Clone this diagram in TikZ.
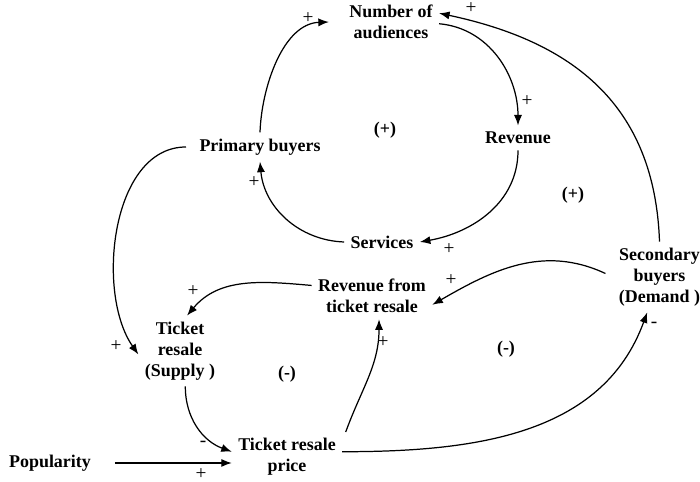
\documentclass[tikz,border=0pt]{standalone}
\usepackage{fontspec}
\setmainfont{Liberation Serif}
\usetikzlibrary{arrows.meta}

\tikzset{
  var/.style={font=\fontsize{10.2}{11.8}\selectfont\bfseries, align=center, inner sep=3.5pt},
  loop/.style={font=\fontsize{10.2}{12}\selectfont\bfseries, inner sep=0pt},
  sign/.style={font=\fontsize{11}{12}\selectfont, inner sep=0pt},
  link/.style={line width=0.7pt, -{Latex[length=6pt,width=4.6pt]}},
}

\begin{document}
\begin{tikzpicture}[x=0.02cm,y=0.02cm]
  \useasboundingbox (0,0) rectangle (700,482);

  % variables
  \node[var] (aud) at (391,460) {Number of\\audiences};
  \node[var] (rev) at (518,344) {Revenue};
  \node[var] (pri) at (260,335) {Primary buyers};
  \node[var] (ser) at (382,240) {Services};
  \node[var] (sec) at (659.5,205) {Secondary\\buyers\\(Demand )};
  \node[var] (rtr) at (372,186) {Revenue from\\ticket resale};
  \node[var] (sup) at (180,131) {Ticket\\resale\\(Supply )};
  \node[var] (trp) at (287,25) {Ticket resale\\price};
  \node[var] (pop) at (50,19) {Popularity};

  % loop polarities
  \node[loop] (l1) at (385,352) {(+)};
  \node[loop] (l2) at (573,287) {(+)};
  \node[loop] (l3) at (287,108) {(-)};
  \node[loop] (l4) at (506,133) {(-)};

  % audience loop
  \draw[link] (pri.north) to[out=88,in=182,looseness=0.9] ([xshift=-8pt]aud.west);
  \draw[link] ([yshift=-1pt]aud.east) to[out=-5,in=90] (rev.north);
  \draw[link] (rev.south) to[out=-90,in=10] (ser.east);
  \draw[link] (ser.west) to[out=178,in=-85] (pri.south);
  \draw[link] (sec.north) to[out=92,in=-12,looseness=1.1] ([yshift=5pt]aud.east);

  % ticket resale loops
  \draw[link] ([xshift=-4pt]pri.west) to[out=180,in=125,looseness=0.9] ([yshift=-2pt]sup.west);
  \draw[link] ([yshift=6pt]rtr.west) to[out=175,in=50] ([xshift=4pt]sup.north);
  \draw[link] ([xshift=-4pt,yshift=2pt]sec.west) to[out=155,in=30] ([yshift=-5pt]rtr.east);
  \draw[link] ([xshift=3pt]sup.south) to[out=-90,in=160] ([yshift=3pt]trp.west);
  \draw[link,shorten <=10pt] (pop.east) -- (pop.east -| trp.west);
  \draw[link] ([xshift=2pt]trp.north east) to[out=70,in=-90] ([xshift=4pt]rtr.south);
  \draw[link] ([yshift=3pt]trp.east) to[out=0,in=-110] ([xshift=-7pt]sec.south);

  % link polarities
  \node[sign] (s1) at (308,464) {+};
  \node[sign] (s2) at (527,381) {+};
  \node[sign] (s3) at (449,233) {+};
  \node[sign] (s4) at (254,300) {+};
  \node[sign] (s5) at (471,474) {+};
  \node[sign] (s6) at (116,136) {+};
  \node[sign] (s7) at (193,191) {+};
  \node[sign] (s8) at (451,202) {+};
  \node[sign] (s9) at (203,38) {-};
  \node[sign] (s10) at (201,8) {+};
  \node[sign] (s11) at (383,140) {+};
  \node[sign] (s12) at (654,157) {-};
\end{tikzpicture}
\end{document}
